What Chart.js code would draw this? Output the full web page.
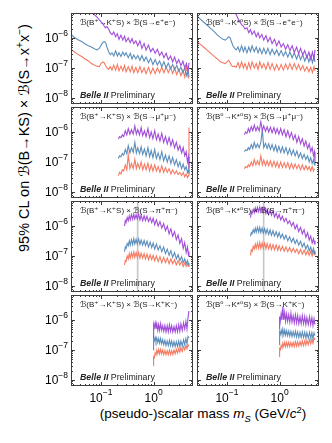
<!DOCTYPE html>
<html>
<head>
<meta charset="utf-8">
<script src="https://cdn.jsdelivr.net/npm/chart.js@4.4.0/dist/chart.umd.min.js"></script>
<style>
  body { margin: 0; background: #fff; width: 332px; height: 443px; position: relative; overflow: hidden;
         font-family: "Liberation Sans", Arial, "DejaVu Sans", sans-serif; color: #000; }
  canvas { position: absolute; }
  .axtitle { position: absolute; white-space: nowrap; line-height: 1; }
  .axtitle sup, .axtitle sub { font-size: 70%; line-height: 0; }
  #ytitle { left: 24px; top: 138px; font-size: 14.5px; transform: translate(-50%, -50%) rotate(-90deg); }
  #xtitle { left: 203px; top: 414px; font-size: 13.5px; transform: translate(-50%, -50%); }
</style>
</head>
<body>
<div id="ytitle" class="axtitle">95% CL on ℬ(B→KS) × ℬ(S→x<sup>+</sup>x<sup>−</sup>)</div>
<div id="xtitle" class="axtitle">(pseudo-)scalar mass <i>m</i><sub><i>S</i></sub> (GeV/<i>c</i><sup>2</sup>)</div>
<script>
// axis ranges and ticks
const X_RANGE = [0.027, 5.6];
const Y_RANGE = [6.3e-9, 6.8e-6];
const X_MAJOR = [0.1, 1];
const X_MAJOR_EXP = ["−1", "0"];
const X_MINOR = [0.03, 0.04, 0.05, 0.06, 0.07, 0.08, 0.09, 0.2, 0.3, 0.4, 0.5, 0.6, 0.7, 0.8, 0.9, 2, 3, 4, 5];
const Y_MAJOR = [1e-8, 1e-7, 1e-6];
const Y_MAJOR_EXP = ["−8", "−7", "−6"];
const Y_MINOR = [7e-9, 8e-9, 9e-9, 2e-8, 3e-8, 4e-8, 5e-8, 6e-8, 7e-8, 8e-8, 9e-8,
  2e-7, 3e-7, 4e-7, 5e-7, 6e-7, 7e-7, 8e-7, 9e-7, 2e-6, 3e-6, 4e-6, 5e-6, 6e-6];
const KS_VETO = [0.4977];

// mass points (GeV/c^2) per final state
const MASS_EE = [0.026, 0.03, 0.036, 0.043, 0.05, 0.058, 0.066, 0.075, 0.084, 0.093,
  0.1, 0.108, 0.115, 0.122, 0.13, 0.14, 0.15, 0.162, 0.175, 0.19,
  0.205, 0.22, 0.24, 0.26, 0.28, 0.3, 0.33, 0.36, 0.39, 0.42,
  0.46, 0.5, 0.55, 0.6, 0.66, 0.72, 0.8, 0.88, 0.97, 1.07,
  1.18, 1.3, 1.43, 1.57, 1.73, 1.9, 2.1, 2.3, 2.5, 2.75,
  3.0, 3.3, 3.6, 3.9, 4.2, 4.5, 4.7];
const MASS_MM = [0.215, 0.225, 0.24, 0.255, 0.27, 0.29, 0.31, 0.33, 0.355, 0.38,
  0.41, 0.44, 0.47, 0.5, 0.54, 0.58, 0.62, 0.67, 0.72, 0.78,
  0.84, 0.9, 0.97, 1.05, 1.13, 1.22, 1.32, 1.43, 1.55, 1.68,
  1.82, 1.97, 2.13, 2.3, 2.5, 2.7, 2.92, 3.15, 3.4, 3.65,
  3.9, 4.15, 4.4, 4.6, 4.7];
const MASS_PP = [0.28, 0.29, 0.3, 0.315, 0.33, 0.345, 0.36, 0.38, 0.4, 0.42,
  0.44, 0.465, 0.49, 0.52, 0.55, 0.58, 0.62, 0.66, 0.7, 0.75,
  0.8, 0.86, 0.92, 0.98, 1.05, 1.13, 1.22, 1.32, 1.43, 1.55,
  1.68, 1.82, 1.97, 2.13, 2.3, 2.5, 2.7, 2.92, 3.15, 3.4,
  3.65, 3.9, 4.15, 4.4, 4.6, 4.7];
const MASS_KK = [0.99, 1.0, 1.03, 1.07, 1.11, 1.15, 1.2, 1.25, 1.3, 1.36,
  1.42, 1.49, 1.56, 1.64, 1.72, 1.81, 1.9, 2.0, 2.1, 2.2,
  2.32, 2.44, 2.57, 2.7, 2.85, 3.0, 3.15, 3.3, 3.5, 3.7,
  3.9, 4.1, 4.3, 4.5, 4.7];

// B+ -> K+ S, S -> e+e-
const KP_EE_PURPLE = [3e-5, 2.5e-5, 2e-5, 1.6e-5, 1.3e-5, 1.05e-5, 8e-6, 6e-6, 5e-6, 4e-6,
  3.5e-6, 3e-6, 2.5e-6, 2.2e-6, 2.4e-6, 2e-6, 1.5e-6, 1.3e-6, 1.6e-6, 1.1e-6,
  1.4e-6, 9e-7, 1.25e-6, 8.5e-7, 1.15e-6, 7.5e-7, 1e-6, 7e-7, 9.5e-7, 6.5e-7,
  8e-7, 5.5e-7, 8e-7, 4.5e-7, 6.5e-7, 4e-7, 5.8e-7, 3.5e-7, 4.5e-7, 3.1e-7,
  4.2e-7, 2.6e-7, 3.4e-7, 2.2e-7, 3.1e-7, 1.9e-7, 2.5e-7, 1.6e-7, 2.3e-7, 1.4e-7,
  1.9e-7, 1.2e-7, 1.7e-7, 1e-7, 1.4e-7, 8e-8, 1.5e-7];
const KP_EE_BLUE = [1.45e-6, 1.1e-6, 8.9e-7, 7.6e-7, 6.3e-7, 5.5e-7, 5e-7, 4.4e-7, 4e-7, 4.5e-7,
  5.6e-7, 7.1e-7, 7.6e-7, 7.1e-7, 5e-7, 3.5e-7, 2.8e-7, 3.2e-7, 2.5e-7, 3.7e-7,
  2.5e-7, 3.2e-7, 2.4e-7, 3.4e-7, 2.6e-7, 3.2e-7, 2.2e-7, 3.1e-7, 2e-7, 2.7e-7,
  2e-7, 2.6e-7, 1.8e-7, 2.6e-7, 1.7e-7, 2.3e-7, 1.5e-7, 2.1e-7, 1.3e-7, 1.9e-7,
  1.26e-7, 1.7e-7, 1.1e-7, 1.6e-7, 1e-7, 1.45e-7, 9.5e-8, 1.3e-7, 8.9e-8, 1.2e-7,
  7.9e-8, 1.05e-7, 7.1e-8, 1e-7, 5.6e-8, 8.9e-8, 5e-8];
const KP_EE_RED = [4.6e-7, 3.6e-7, 2.9e-7, 2.4e-7, 2e-7, 1.7e-7, 1.4e-7, 1.25e-7, 1.15e-7, 1.1e-7,
  1.4e-7, 1.6e-7, 1.5e-7, 1.2e-7, 1e-7, 9e-8, 1.1e-7, 8.5e-8, 1.25e-7, 8.5e-8,
  1.3e-7, 8e-8, 1.15e-7, 8e-8, 1.2e-7, 7.5e-8, 1.1e-7, 7.5e-8, 1.15e-7, 7e-8,
  1.05e-7, 7e-8, 1.1e-7, 7e-8, 1e-7, 6.5e-8, 1.05e-7, 6.5e-8, 1e-7, 6.5e-8,
  1e-7, 7e-8, 1.05e-7, 7e-8, 1.1e-7, 7e-8, 1.05e-7, 6.5e-8, 1e-7, 6e-8,
  9e-8, 5.5e-8, 8.5e-8, 5e-8, 1.2e-7, 5e-8, 4.5e-8];

// B0 -> K*0 S, S -> e+e-
const KS0_EE_PURPLE = [4e-5, 3.5e-5, 3e-5, 2.5e-5, 2.1e-5, 1.8e-5, 1.5e-5, 1.3e-5, 1.1e-5, 1e-5,
  9e-6, 8.5e-6, 8e-6, 7.5e-6, 7.2e-6, 7e-6, 6e-6, 4.5e-6, 3.5e-6, 2.8e-6,
  2.5e-6, 2e-6, 2.2e-6, 1.5e-6, 1.9e-6, 1.3e-6, 1.7e-6, 1.1e-6, 1.5e-6, 1e-6,
  1.3e-6, 8.5e-7, 1.2e-6, 7.5e-7, 1.05e-6, 6.5e-7, 9e-7, 5.5e-7, 8e-7, 5e-7,
  6.5e-7, 4.2e-7, 6e-7, 3.8e-7, 5.5e-7, 3.3e-7, 5e-7, 3e-7, 4.5e-7, 2.7e-7,
  3.8e-7, 2.2e-7, 3.4e-7, 2e-7, 3.4e-7, 2e-7, 4e-7];
const KS0_EE_BLUE = [5.9e-6, 4.5e-6, 3.4e-6, 2.6e-6, 2e-6, 1.6e-6, 1.25e-6, 1.05e-6, 9e-7, 8.5e-7,
  9.5e-7, 1.1e-6, 1e-6, 7.5e-7, 5.5e-7, 4.5e-7, 4e-7, 5e-7, 3.5e-7, 5.5e-7,
  3.5e-7, 5e-7, 3.2e-7, 5e-7, 3.5e-7, 5.5e-7, 3.5e-7, 5e-7, 3.2e-7, 4.5e-7,
  3e-7, 4.5e-7, 3e-7, 4.5e-7, 2.8e-7, 4.2e-7, 2.8e-7, 4e-7, 2.6e-7, 3.8e-7,
  2.5e-7, 3.5e-7, 2.3e-7, 3.4e-7, 2.2e-7, 3.2e-7, 2e-7, 3e-7, 1.9e-7, 2.8e-7,
  1.7e-7, 2.6e-7, 1.6e-7, 2.5e-7, 1.5e-7, 2.4e-7, 1.6e-7];
const KS0_EE_RED = [8.5e-7, 6.5e-7, 5e-7, 3.8e-7, 3e-7, 2.4e-7, 2e-7, 1.6e-7, 1.5e-7, 1.4e-7,
  1.6e-7, 1.8e-7, 1.5e-7, 1.2e-7, 1.1e-7, 1.15e-7, 1.05e-7, 1.5e-7, 1e-7, 1.6e-7,
  1e-7, 1.4e-7, 9e-8, 1.5e-7, 9.5e-8, 1.6e-7, 1e-7, 1.4e-7, 9e-8, 1.6e-7,
  1e-7, 1.4e-7, 9e-8, 1.5e-7, 9e-8, 1.4e-7, 8.5e-8, 1.3e-7, 8.5e-8, 1.3e-7,
  8.5e-8, 1.35e-7, 9e-8, 1.4e-7, 9e-8, 1.4e-7, 9e-8, 1.3e-7, 8.5e-8, 1.2e-7,
  8e-8, 1.1e-7, 7.5e-8, 1.05e-7, 7e-8, 1.1e-7, 8e-8];

// mu+mu-
const KP_MM_PURPLE = [5.8e-7, 7e-7, 6.5e-7, 8e-7, 7e-7, 1.1e-6, 8e-7, 1.3e-6, 8.5e-7, 1.2e-6,
  8.5e-7, 1.6e-6, 8.5e-7, 1.2e-6, 8e-7, 1.4e-6, 7.5e-7, 1.1e-6, 7e-7, 1.3e-6,
  6.5e-7, 1e-6, 6e-7, 1.1e-6, 5.5e-7, 8.5e-7, 5e-7, 9e-7, 4.5e-7, 7e-7,
  4e-7, 6.5e-7, 3.5e-7, 5.5e-7, 3e-7, 4.5e-7, 2.5e-7, 3.5e-7, 2e-7, 3e-7,
  1.6e-7, 2.2e-7, 1e-7, 1.5e-7, 6e-8];
const KP_MM_BLUE = [1.3e-7, 1.6e-7, 1.5e-7, 1.9e-7, 1.7e-7, 2.6e-7, 1.9e-7, 3.5e-7, 2e-7, 3e-7,
  2.1e-7, 4.5e-7, 2e-7, 3e-7, 1.9e-7, 3.2e-7, 1.8e-7, 2.7e-7, 1.6e-7, 3e-7,
  1.5e-7, 2.4e-7, 1.4e-7, 2.6e-7, 1.3e-7, 2e-7, 1.2e-7, 2.2e-7, 1.1e-7, 1.7e-7,
  1e-7, 1.6e-7, 9e-8, 1.4e-7, 8e-8, 1.2e-7, 7e-8, 1e-7, 6e-8, 8.5e-8,
  5.5e-8, 7e-8, 4.5e-8, 5.5e-8, 4e-8];
const KP_MM_RED = [3.5e-8, 4.5e-8, 4e-8, 5.5e-8, 5e-8, 8e-8, 5.5e-8, 1.7e-7, 6e-8, 9e-8,
  6e-8, 1.2e-7, 6e-8, 9e-8, 6e-8, 1e-7, 5.5e-8, 8.5e-8, 5.5e-8, 9e-8,
  5e-8, 8e-8, 5e-8, 8e-8, 5e-8, 7e-8, 4.5e-8, 7.5e-8, 4.5e-8, 6.5e-8,
  4.5e-8, 6e-8, 4e-8, 5.5e-8, 4e-8, 5e-8, 3.8e-8, 4.5e-8, 3.5e-8, 4.5e-8,
  3.2e-8, 4e-8, 3e-8, 3.5e-8, 1.4e-6];
const KS0_MM_PURPLE = [8e-7, 1e-6, 9e-7, 1.3e-6, 1e-6, 1.5e-6, 1.1e-6, 1.7e-6, 1.1e-6, 1.5e-6,
  1.1e-6, 2.2e-6, 1.1e-6, 1.6e-6, 1.05e-6, 1.5e-6, 1e-6, 1.45e-6, 9.5e-7, 1.4e-6,
  9e-7, 1.3e-6, 8.5e-7, 1.3e-6, 8e-7, 1.2e-6, 7e-7, 1.1e-6, 6.5e-7, 9.5e-7,
  5.5e-7, 8e-7, 4.5e-7, 7e-7, 4e-7, 6e-7, 3.4e-7, 5e-7, 2.8e-7, 4e-7,
  2.2e-7, 3e-7, 1.6e-7, 2.2e-7, 1e-7];
const KS0_MM_BLUE = [2.2e-7, 2.5e-7, 2.4e-7, 3e-7, 2.6e-7, 3.8e-7, 2.8e-7, 4.5e-7, 3e-7, 4e-7,
  3e-7, 4.5e-7, 1.2e-6, 3e-7, 4.2e-7, 2.8e-7, 4e-7, 2.6e-7, 3.8e-7, 2.4e-7,
  3.6e-7, 2.2e-7, 3.3e-7, 2.1e-7, 3.2e-7, 2e-7, 3e-7, 1.8e-7, 2.8e-7, 1.7e-7,
  2.5e-7, 1.6e-7, 2.3e-7, 1.4e-7, 2e-7, 1.3e-7, 1.8e-7, 1.2e-7, 1.6e-7, 1e-7,
  1.4e-7, 9e-8, 1.2e-7, 8e-8, 1e-7];
const KS0_MM_RED = [6e-8, 7e-8, 6.5e-8, 8e-8, 7e-8, 1e-7, 7.5e-8, 1.2e-7, 8e-8, 1.1e-7,
  8e-8, 1.6e-7, 8e-8, 1.15e-7, 7.5e-8, 1.1e-7, 7.5e-8, 1.1e-7, 7e-8, 1.05e-7,
  7e-8, 1e-7, 6.5e-8, 1e-7, 6.5e-8, 9.5e-8, 6.5e-8, 9.5e-8, 6e-8, 9e-8,
  6e-8, 8.5e-8, 6e-8, 8e-8, 5.5e-8, 8e-8, 5.5e-8, 7.5e-8, 5.5e-8, 7e-8,
  5e-8, 7e-8, 5e-8, 6e-8, 6e-8];

// pi+pi-
const KP_PP_PURPLE = [1e-6, 1.5e-6, 1.3e-6, 1.9e-6, 1.5e-6, 2.2e-6, 1.6e-6, 2.4e-6, 1.7e-6, 2.5e-6,
  1.7e-6, 2.4e-6, 1.7e-6, 2.5e-6, 1.6e-6, 2.3e-6, 1.5e-6, 2.2e-6, 1.5e-6, 2.1e-6,
  1.4e-6, 1.9e-6, 1.3e-6, 1.8e-6, 1.1e-6, 1.6e-6, 1e-6, 1.4e-6, 8.5e-7, 1.2e-6,
  7e-7, 1e-6, 5.5e-7, 8e-7, 4.5e-7, 6.5e-7, 3.5e-7, 5e-7, 2.6e-7, 3.8e-7,
  1.8e-7, 2.8e-7, 1.3e-7, 2e-7, 1e-7, 1.4e-7];
const KP_PP_BLUE = [1.4e-7, 2e-7, 1.8e-7, 2.6e-7, 2.2e-7, 3.2e-7, 2.3e-7, 3.5e-7, 2.4e-7, 3.8e-7,
  2.5e-7, 3.6e-7, 2.5e-7, 3.7e-7, 2.4e-7, 3.4e-7, 2.3e-7, 3.3e-7, 2.2e-7, 3.1e-7,
  2e-7, 2.9e-7, 1.9e-7, 2.7e-7, 1.7e-7, 2.5e-7, 1.6e-7, 2.2e-7, 1.4e-7, 2e-7,
  1.2e-7, 1.7e-7, 1.05e-7, 1.5e-7, 9e-8, 1.3e-7, 8e-8, 1.1e-7, 7e-8, 9.5e-8,
  6e-8, 8e-8, 5.5e-8, 7e-8, 5e-8, 6e-8];
const KP_PP_RED = [5e-8, 7e-8, 6.5e-8, 1e-7, 8e-8, 1.2e-7, 8.5e-8, 1.3e-7, 9e-8, 1.35e-7,
  9e-8, 1.3e-7, 9e-8, 1.3e-7, 8.5e-8, 1.25e-7, 8.5e-8, 1.2e-7, 8e-8, 1.15e-7,
  7.5e-8, 1.1e-7, 7.5e-8, 1.05e-7, 7e-8, 1e-7, 6.5e-8, 9.5e-8, 6e-8, 9e-8,
  6e-8, 8.5e-8, 5.5e-8, 8e-8, 5.5e-8, 7.5e-8, 5e-8, 7e-8, 5e-8, 6.5e-8,
  4.5e-8, 6e-8, 4.5e-8, 5.5e-8, 4.5e-8, 5e-8];
const KS0_PP_PURPLE = [1.9e-6, 3e-6, 2.6e-6, 3.6e-6, 2.8e-6, 4e-6, 3e-6, 4.2e-6, 3e-6, 4.3e-6,
  2.9e-6, 4e-6, 2.8e-6, 4e-6, 2.6e-6, 3.6e-6, 2.4e-6, 3.4e-6, 2.3e-6, 3.2e-6,
  2e-6, 2.7e-6, 1.8e-6, 2.4e-6, 1.6e-6, 2.1e-6, 1.4e-6, 1.8e-6, 1.2e-6, 1.5e-6,
  1e-6, 1.3e-6, 8e-7, 1.1e-6, 6.5e-7, 9e-7, 5.5e-7, 7.5e-7, 4.2e-7, 6e-7,
  3.4e-7, 4.6e-7, 2.7e-7, 3.8e-7, 2.5e-7, 3.2e-7];
const KS0_PP_BLUE = [4.5e-7, 6e-7, 5.5e-7, 7.5e-7, 6e-7, 8.5e-7, 6.2e-7, 9e-7, 6.2e-7, 9e-7,
  6e-7, 8.5e-7, 5.8e-7, 8.2e-7, 5.5e-7, 7.8e-7, 5.2e-7, 7.4e-7, 4.9e-7, 7e-7,
  4.6e-7, 6.4e-7, 4.3e-7, 6e-7, 4e-7, 5.4e-7, 3.6e-7, 4.9e-7, 3.2e-7, 4.4e-7,
  2.9e-7, 3.9e-7, 2.6e-7, 3.5e-7, 2.3e-7, 3.1e-7, 2e-7, 2.7e-7, 1.7e-7, 2.3e-7,
  1.5e-7, 2e-7, 1.3e-7, 1.8e-7, 1.2e-7, 1.5e-7];
const KS0_PP_RED = [1.05e-7, 1.6e-7, 1.4e-7, 2.1e-7, 1.7e-7, 2.5e-7, 1.8e-7, 2.7e-7, 1.8e-7, 2.8e-7,
  1.8e-7, 2.7e-7, 1.8e-7, 2.7e-7, 1.75e-7, 2.6e-7, 1.7e-7, 2.5e-7, 1.65e-7, 2.4e-7,
  1.6e-7, 2.3e-7, 1.55e-7, 2.2e-7, 1.5e-7, 2.1e-7, 1.45e-7, 2e-7, 1.4e-7, 1.9e-7,
  1.35e-7, 1.8e-7, 1.3e-7, 1.7e-7, 1.2e-7, 1.65e-7, 1.15e-7, 1.55e-7, 1.1e-7, 1.5e-7,
  1.05e-7, 1.45e-7, 1e-7, 1.4e-7, 1.1e-7, 1.3e-7];

// K+K-
const KP_KK_PURPLE = [2.5e-7, 7e-7, 5.5e-7, 8e-7, 5e-7, 7.5e-7, 4.5e-7, 7e-7, 4.5e-7, 7.5e-7,
  4.5e-7, 6.5e-7, 4.2e-7, 6.5e-7, 4e-7, 6.5e-7, 4e-7, 7e-7, 4.2e-7, 6.5e-7,
  4e-7, 6e-7, 4e-7, 6.5e-7, 4e-7, 7e-7, 4.2e-7, 7.5e-7, 4.5e-7, 8e-7,
  5e-7, 9e-7, 5e-7, 1.2e-6, 2e-6];
const KP_KK_BLUE = [1e-7, 2.5e-7, 2e-7, 2.6e-7, 1.9e-7, 2.5e-7, 1.8e-7, 2.4e-7, 1.7e-7, 2.4e-7,
  1.6e-7, 2.2e-7, 1.5e-7, 2.1e-7, 1.4e-7, 2e-7, 1.4e-7, 2.1e-7, 1.4e-7, 2e-7,
  1.3e-7, 1.9e-7, 1.3e-7, 1.9e-7, 1.3e-7, 2e-7, 1.3e-7, 2e-7, 1.35e-7, 2.2e-7,
  1.5e-7, 2.4e-7, 1.6e-7, 2.8e-7, 2.5e-7];
const KP_KK_RED = [3e-8, 6e-8, 5.5e-8, 8e-8, 7e-8, 1e-7, 7.5e-8, 1.05e-7, 7.5e-8, 1.05e-7,
  7.5e-8, 1e-7, 7e-8, 9.5e-8, 7e-8, 9.5e-8, 7e-8, 1e-7, 7e-8, 9.5e-8,
  7e-8, 1e-7, 7.5e-8, 1.05e-7, 8e-8, 1.1e-7, 8.5e-8, 1.2e-7, 9e-8, 1.3e-7,
  1e-7, 1.4e-7, 1.1e-7, 1.5e-7, 1.3e-7];
const KS0_KK_PURPLE = [5e-7, 1.3e-6, 9e-7, 1.6e-6, 1e-6, 2.8e-6, 1e-6, 1.8e-6, 9e-7, 1.6e-6,
  9e-7, 1.5e-6, 8.5e-7, 1.7e-6, 8.5e-7, 1.4e-6, 8e-7, 1.5e-6, 8e-7, 1.4e-6,
  7.5e-7, 1.3e-6, 7.5e-7, 1.4e-6, 7.5e-7, 1.3e-6, 7e-7, 1.2e-6, 7e-7, 1.3e-6,
  7e-7, 1.2e-6, 6.5e-7, 1.1e-6, 7e-7];
const KS0_KK_BLUE = [1.5e-7, 4e-7, 3.3e-7, 4.5e-7, 3.3e-7, 5e-7, 3.2e-7, 4.6e-7, 3.1e-7, 4.4e-7,
  3e-7, 4.3e-7, 2.9e-7, 4.2e-7, 2.8e-7, 4.1e-7, 2.8e-7, 4.2e-7, 2.7e-7, 4e-7,
  2.6e-7, 3.9e-7, 2.6e-7, 4e-7, 2.6e-7, 3.9e-7, 2.5e-7, 3.8e-7, 2.5e-7, 3.9e-7,
  2.5e-7, 3.8e-7, 2.4e-7, 3.7e-7, 3e-7];
const KS0_KK_RED = [6e-8, 1.1e-7, 1e-7, 1.4e-7, 1.2e-7, 1.7e-7, 1.3e-7, 1.8e-7, 1.3e-7, 1.8e-7,
  1.3e-7, 1.8e-7, 1.3e-7, 1.8e-7, 1.3e-7, 1.8e-7, 1.3e-7, 1.9e-7, 1.35e-7, 1.9e-7,
  1.35e-7, 1.9e-7, 1.4e-7, 2e-7, 1.4e-7, 2e-7, 1.45e-7, 2.1e-7, 1.5e-7, 2.2e-7,
  1.6e-7, 2.3e-7, 1.7e-7, 2.5e-7, 2.2e-7];

const PURPLE = "#a14fd9";
const BLUE = "#5c8ebc";
const RED = "#f57a62";
const FRAME = "#3c3c3c";

const PANELS = [
  { title: "ℬ(B⁺→K⁺S) × ℬ(S→e⁺e⁻)", mass: MASS_EE, purple: KP_EE_PURPLE, blue: KP_EE_BLUE, red: KP_EE_RED },
  { title: "ℬ(B⁰→K*⁰S) × ℬ(S→e⁺e⁻)", mass: MASS_EE, purple: KS0_EE_PURPLE, blue: KS0_EE_BLUE, red: KS0_EE_RED },
  { title: "ℬ(B⁺→K⁺S) × ℬ(S→μ⁺μ⁻)", mass: MASS_MM, purple: KP_MM_PURPLE, blue: KP_MM_BLUE, red: KP_MM_RED },
  { title: "ℬ(B⁰→K*⁰S) × ℬ(S→μ⁺μ⁻)", mass: MASS_MM, purple: KS0_MM_PURPLE, blue: KS0_MM_BLUE, red: KS0_MM_RED },
  { title: "ℬ(B⁺→K⁺S) × ℬ(S→π⁺π⁻)", mass: MASS_PP, purple: KP_PP_PURPLE, blue: KP_PP_BLUE, red: KP_PP_RED, veto: true },
  { title: "ℬ(B⁰→K*⁰S) × ℬ(S→π⁺π⁻)", mass: MASS_PP, purple: KS0_PP_PURPLE, blue: KS0_PP_BLUE, red: KS0_PP_RED, veto: true },
  { title: "ℬ(B⁺→K⁺S) × ℬ(S→K⁺K⁻)", mass: MASS_KK, purple: KP_KK_PURPLE, blue: KP_KK_BLUE, red: KP_KK_RED },
  { title: "ℬ(B⁰→K*⁰S) × ℬ(S→K⁺K⁻)", mass: MASS_KK, purple: KS0_KK_PURPLE, blue: KS0_KK_BLUE, red: KS0_KK_RED },
];

// panel geometry (plot area)
const COL_X = [71, 197];
const ROW_Y = [13, 107, 201, 295];
const PW = 122, PH = 91;

const FONT = '"Liberation Sans", Arial, "DejaVu Sans", sans-serif';

const framePlugin = {
  id: "frame",
  afterDraw(chart, args, opts) {
    const { ctx, chartArea: a, scales: { x, y } } = chart;
    ctx.save();
    ctx.strokeStyle = FRAME;
    ctx.lineWidth = 1;
    ctx.beginPath();
    const yTick = (v, len) => {
      const py = Math.round(y.getPixelForValue(v)) + 0.5;
      ctx.moveTo(a.left, py); ctx.lineTo(a.left + len, py);
      ctx.moveTo(a.right, py); ctx.lineTo(a.right - len, py);
    };
    const xTick = (v, len) => {
      const px = Math.round(x.getPixelForValue(v)) + 0.5;
      ctx.moveTo(px, a.top); ctx.lineTo(px, a.top + len);
      ctx.moveTo(px, a.bottom); ctx.lineTo(px, a.bottom - len);
    };
    Y_MINOR.forEach(v => yTick(v, 2));
    Y_MAJOR.forEach(v => yTick(v, 4));
    X_MINOR.forEach(v => xTick(v, 2));
    X_MAJOR.forEach(v => xTick(v, 4));
    ctx.stroke();
    ctx.strokeRect(a.left + 0.5, a.top + 0.5, a.right - a.left - 1, a.bottom - a.top - 1);

    ctx.fillStyle = "#222";
    ctx.textBaseline = "alphabetic";
    ctx.textAlign = "left";
    // panel title
    ctx.font = "8px " + FONT;
    ctx.fillText(opts.title, a.left + 9, a.top + 12);
    // experiment tag
    ctx.font = "italic bold 8.8px " + FONT;
    ctx.fillText("Belle II", a.left + 9, a.bottom - 6);
    const bw = ctx.measureText("Belle II").width;
    ctx.font = "8.8px " + FONT;
    ctx.fillText(" Preliminary", a.left + 9 + bw, a.bottom - 6);

    ctx.fillStyle = "#000";
    if (opts.yLabels) {
      Y_MAJOR.forEach((v, i) => {
        const py = y.getPixelForValue(v);
        ctx.font = "8.5px " + FONT;
        const ew = ctx.measureText(Y_MAJOR_EXP[i]).width;
        const right = a.left - 3;
        ctx.fillText(Y_MAJOR_EXP[i], right - ew, py - 1.5);
        ctx.font = "12px " + FONT;
        const tw = ctx.measureText("10").width;
        ctx.fillText("10", right - ew - tw, py + 4.3);
      });
    }
    if (opts.xLabels) {
      X_MAJOR.forEach((v, i) => {
        const px = x.getPixelForValue(v);
        ctx.font = "8.5px " + FONT;
        const ew = ctx.measureText(X_MAJOR_EXP[i]).width;
        ctx.font = "12px " + FONT;
        const tw = ctx.measureText("10").width;
        const start = px - (tw + ew) / 2;
        ctx.fillText("10", start, a.bottom + 16);
        ctx.font = "8.5px " + FONT;
        ctx.fillText(X_MAJOR_EXP[i], start + tw, a.bottom + 9);
      });
    }
    ctx.restore();
  }
};

function series(mass, vals, color) {
  return {
    data: mass.map((m, i) => ({ x: m, y: vals[i] })),
    borderColor: color,
    borderWidth: 1.1,
    pointRadius: 0,
    fill: false,
    tension: 0,
  };
}

PANELS.forEach((p, k) => {
  const r = Math.floor(k / 2), c = k % 2;
  const padL = c === 0 ? 34 : 3;
  const padB = r === 3 ? 22 : 3;
  const pad = 3;
  const cv = document.createElement("canvas");
  cv.width = PW + padL + pad;
  cv.height = PH + pad + padB;
  cv.style.left = (COL_X[c] - padL) + "px";
  cv.style.top = (ROW_Y[r] - pad) + "px";
  cv.style.width = cv.width + "px";
  cv.style.height = cv.height + "px";
  document.body.appendChild(cv);

  const datasets = [
    series(p.mass, p.purple, PURPLE),
    series(p.mass, p.blue, BLUE),
    series(p.mass, p.red, RED),
  ];
  if (p.veto) {
    datasets.push({
      data: [{ x: KS_VETO[0], y: Y_RANGE[0] }, { x: KS_VETO[0], y: Y_RANGE[1] }],
      borderColor: "#c6c6c6", borderWidth: 1.6, pointRadius: 0, fill: false,
    });
  }

  new Chart(cv, {
    type: "line",
    data: { datasets },
    options: {
      responsive: false,
      animation: false,
      devicePixelRatio: 1,
      events: [],
      layout: { padding: { left: padL, right: pad, top: pad, bottom: padB } },
      scales: {
        x: { type: "logarithmic", min: X_RANGE[0], max: X_RANGE[1], display: false },
        y: { type: "logarithmic", min: Y_RANGE[0], max: Y_RANGE[1], display: false },
      },
      plugins: {
        legend: { display: false },
        tooltip: { enabled: false },
        frame: { title: p.title, yLabels: c === 0, xLabels: r === 3 },
      },
    },
    plugins: [framePlugin],
  });
});
</script>
</body>
</html>
